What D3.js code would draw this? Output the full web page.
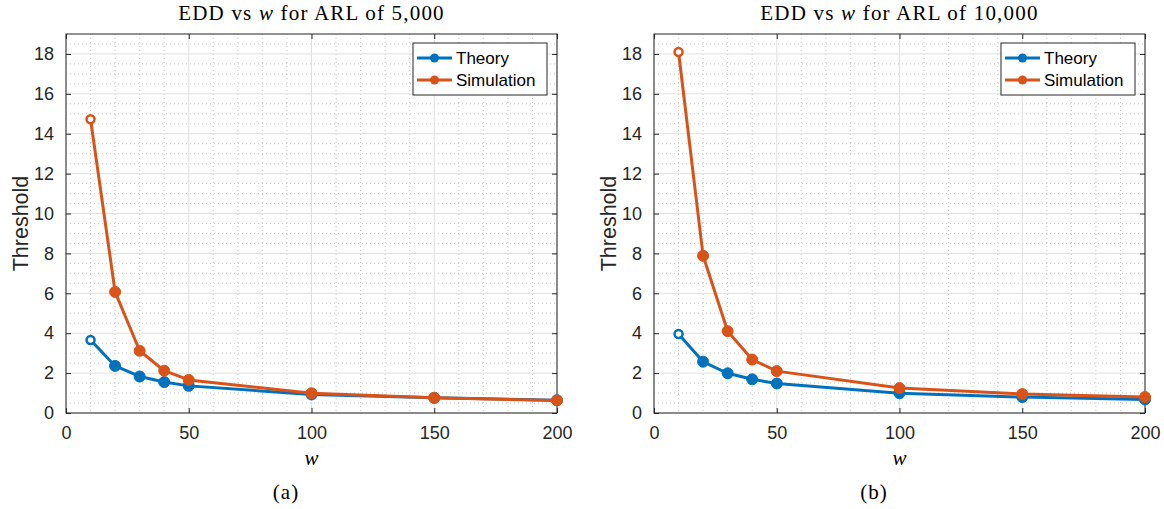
<!DOCTYPE html>
<html>
<head>
<meta charset="utf-8">
<script src="https://cdn.jsdelivr.net/npm/d3@7"></script>
<style>
  body { margin: 0; background: #fff; }
  svg { display: block; }
  .tick text { font-family: "Liberation Sans", Arial, sans-serif; font-size: 18px; fill: #262626; }
  .domain { display: none; }
  .tick line { stroke: #262626; }
</style>
</head>
<body>
<div id="chart"></div>
<script>
// values
var wValues = [10, 20, 30, 40, 50, 100, 150, 200];
var theory5k = [3.66, 2.36, 1.83, 1.55, 1.36, 0.93, 0.76, 0.64];
var sim5k    = [14.73, 6.07, 3.12, 2.12, 1.66, 0.99, 0.76, 0.63];
var theory10k = [3.96, 2.57, 1.99, 1.69, 1.48, 0.99, 0.8, 0.68];
var sim10k    = [18.1, 7.88, 4.1, 2.68, 2.1, 1.25, 0.95, 0.8];
var xTicks = [0, 50, 100, 150, 200];
var yTicks = [0, 2, 4, 6, 8, 10, 12, 14, 16, 18];
var seriesNames = ["Theory", "Simulation"];
var seriesColors = ["#0072BD", "#D95319"];

var panels = [
  {left: 66, arl: "5,000", caption: "(a)", series: [theory5k, sim5k]},
  {left: 654, arl: "10,000", caption: "(b)", series: [theory10k, sim10k]}
];

var W = 1164, H = 509;
var plotTop = 34, plotH = 379, plotW = 491;

var svg = d3.select("#chart").append("svg")
  .attr("width", W)
  .attr("height", H);

panels.forEach(function (p) {
  var x = d3.scaleLinear().domain([0, 200]).range([0, plotW]);
  var y = d3.scaleLinear().domain([0, 19]).range([plotH, 0]);

  var g = svg.append("g")
    .attr("transform", "translate(" + p.left + "," + plotTop + ")");

  // minor grid (dotted)
  var xMinor = d3.range(10, 200, 10).filter(function (d) { return d % 50 !== 0; });
  var yMinor = d3.range(0.5, 19, 0.5).filter(function (d) { return d % 2 !== 0; });
  g.append("g").selectAll("line").data(xMinor).enter().append("line")
    .attr("x1", x).attr("x2", x).attr("y1", 0).attr("y2", plotH)
    .attr("stroke", "#cccccc").attr("stroke-width", 1).attr("stroke-dasharray", "1,3");
  g.append("g").selectAll("line").data(yMinor).enter().append("line")
    .attr("y1", y).attr("y2", y).attr("x1", 0).attr("x2", plotW)
    .attr("stroke", "#cccccc").attr("stroke-width", 1).attr("stroke-dasharray", "1,3");

  // major grid
  g.append("g").selectAll("line").data(xTicks).enter().append("line")
    .attr("x1", x).attr("x2", x).attr("y1", 0).attr("y2", plotH)
    .attr("stroke", "#e0e0e0").attr("stroke-width", 1);
  g.append("g").selectAll("line").data(yTicks).enter().append("line")
    .attr("y1", y).attr("y2", y).attr("x1", 0).attr("x2", plotW)
    .attr("stroke", "#e0e0e0").attr("stroke-width", 1);

  // axes, ticks pointing inward
  g.append("g")
    .attr("transform", "translate(0," + plotH + ")")
    .call(d3.axisBottom(x).tickValues(xTicks).tickSize(-5).tickPadding(13));
  g.append("g")
    .call(d3.axisTop(x).tickValues(xTicks).tickSize(-5).tickFormat(""));
  g.append("g")
    .call(d3.axisLeft(y).tickValues(yTicks).tickSize(-5).tickPadding(12));
  g.append("g")
    .attr("transform", "translate(" + plotW + ",0)")
    .call(d3.axisRight(y).tickValues(yTicks).tickSize(-5).tickFormat(""));

  g.append("rect")
    .attr("width", plotW).attr("height", plotH)
    .attr("fill", "none").attr("stroke", "#262626").attr("stroke-width", 1);

  // series
  var line = d3.line()
    .x(function (d, i) { return x(wValues[i]); })
    .y(function (d) { return y(d); });

  p.series.forEach(function (vals, k) {
    var color = seriesColors[k];
    g.append("path")
      .datum(vals)
      .attr("d", line)
      .attr("fill", "none")
      .attr("stroke", color)
      .attr("stroke-width", 3)
      .attr("stroke-linejoin", "round");
    g.append("g").selectAll("circle").data(vals).enter().append("circle")
      .attr("cx", function (d, i) { return x(wValues[i]); })
      .attr("cy", y)
      .attr("r", function (d, i) { return i === 0 ? 4 : 5.5; })
      .attr("fill", function (d, i) { return i === 0 ? "#fff" : color; })
      .attr("stroke", color)
      .attr("stroke-width", function (d, i) { return i === 0 ? 2.5 : 1; });
  });

  // legend
  var lg = g.append("g").attr("transform", "translate(" + (plotW - 144) + ",9)");
  lg.append("rect")
    .attr("width", 134).attr("height", 52)
    .attr("fill", "#fff").attr("stroke", "#262626").attr("stroke-width", 1);
  seriesNames.forEach(function (name, k) {
    var yy = 15 + k * 22;
    lg.append("line")
      .attr("x1", 4).attr("x2", 39).attr("y1", yy).attr("y2", yy)
      .attr("stroke", seriesColors[k]).attr("stroke-width", 3);
    lg.append("circle")
      .attr("cx", 21.5).attr("cy", yy).attr("r", 4.5)
      .attr("fill", seriesColors[k]);
    lg.append("text")
      .attr("x", 43).attr("y", yy + 6)
      .attr("font-family", "Liberation Sans, Arial, sans-serif")
      .attr("font-size", 17)
      .attr("fill", "#000")
      .text(name);
  });

  // titles and labels
  var title = g.append("text")
    .attr("x", plotW / 2).attr("y", -14)
    .attr("text-anchor", "middle")
    .attr("font-family", "Liberation Serif, Times New Roman, serif")
    .attr("font-size", 21)
    .attr("letter-spacing", 1.2)
    .attr("fill", "#000");
  title.append("tspan").text("EDD vs ");
  title.append("tspan").attr("font-style", "italic").text("w");
  title.append("tspan").text(" for ARL of " + p.arl);

  g.append("text")
    .attr("x", plotW / 2).attr("y", plotH + 52)
    .attr("text-anchor", "middle")
    .attr("font-family", "Liberation Serif, Times New Roman, serif")
    .attr("font-style", "italic")
    .attr("font-size", 21)
    .text("w");

  g.append("text")
    .attr("x", 220).attr("y", plotH + 86)
    .attr("text-anchor", "middle")
    .attr("font-family", "Liberation Serif, Times New Roman, serif")
    .attr("font-size", 21)
    .attr("letter-spacing", 1)
    .text(p.caption);

  g.append("text")
    .attr("transform", "translate(-38," + (plotH / 2) + ") rotate(-90)")
    .attr("text-anchor", "middle")
    .attr("font-family", "Liberation Sans, Arial, sans-serif")
    .attr("font-size", 21.5)
    .attr("fill", "#262626")
    .text("Threshold");
});
</script>
</body>
</html>
